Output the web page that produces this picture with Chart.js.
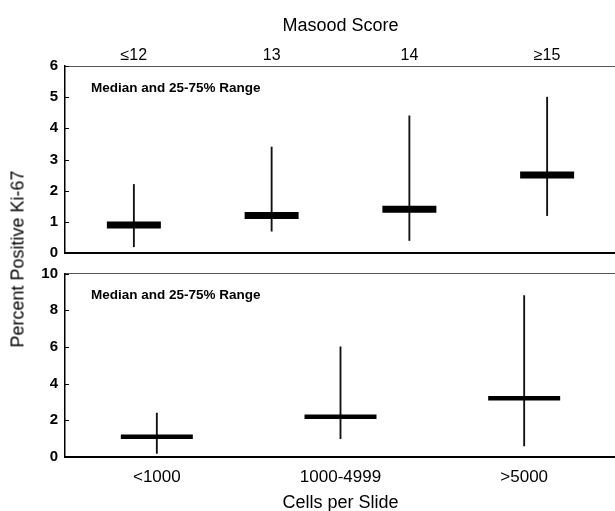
<!DOCTYPE html>
<html>
<head>
<meta charset="utf-8">
<script src="https://cdn.jsdelivr.net/npm/chart.js@4"></script>
<style>
  html, body { margin: 0; padding: 0; background: #fff; overflow: hidden; width: 615px; height: 511px; }
  canvas { position: absolute; left: 0; display: block; }
  #chart1 { top: 0; }
  #chart2 { top: 256px; }
  #ytitle {
    position: absolute; left: 18px; top: 259px;
    transform: translate(-50%, -50%) rotate(-90deg);
    font: 18px "Liberation Sans", Arial, sans-serif; color: #000; white-space: nowrap;
  }
</style>
</head>
<body>
<canvas id="chart1" width="620" height="266"></canvas>
<canvas id="chart2" width="620" height="266"></canvas>
<div id="ytitle">Percent Positive Ki-67</div>
<script>
// top panel: Masood score
const scoreLabels = ['≤12', '13', '14', '≥15'];
const scoreMedian = [0.9, 1.2, 1.4, 2.5];
const scoreLow = [0.2, 0.7, 0.4, 1.2];
const scoreHigh = [2.2, 3.4, 4.4, 5.0];
const scoreTicks = [0, 1, 2, 3, 4, 5, 6];

// bottom panel: cells per slide
const cellLabels = ['<1000', '1000-4999', '>5000'];
const cellMedian = [1.1, 2.2, 3.2];
const cellLow = [0.2, 1.0, 0.6];
const cellHigh = [2.4, 6.0, 8.8];
const cellTicks = [0, 2, 4, 6, 8, 10];

const FONT = '"Liberation Sans", Arial, sans-serif';

// inward y ticks + the note in the corner
const panelExtras = {
    id: 'panelExtras',
    afterDraw(chart) {
        const ctx = chart.ctx;
        const y = chart.scales.y;
        const area = chart.chartArea;
        ctx.save();
        ctx.strokeStyle = '#000';
        ctx.lineWidth = 1;
        y.ticks.forEach(t => {
            const py = Math.round(y.getPixelForValue(t.value)) + 0.5;
            ctx.beginPath();
            ctx.moveTo(area.left, py);
            ctx.lineTo(area.left + 4, py);
            ctx.stroke();
        });
        ctx.font = 'bold 13.5px ' + FONT;
        ctx.fillStyle = '#000';
        ctx.textBaseline = 'middle';
        ctx.fillText('Median and 25-75% Range', area.left + 26, area.top + 22);
        ctx.restore();
    }
};

function makePanel(canvasId, labels, medians, lows, highs, ticks, opts) {
    const ctx = document.getElementById(canvasId).getContext('2d');
    return new Chart(ctx, {
        type: 'bar',
        data: {
            labels: labels,
            datasets: [
                {
                    // median bars
                    type: 'line',
                    data: medians,
                    showLine: false,
                    pointStyle: 'line',
                    pointRadius: opts.medianHalf,
                    pointHoverRadius: opts.medianHalf,
                    pointBorderWidth: opts.medianThick,
                    pointHoverBorderWidth: opts.medianThick,
                    borderColor: '#000',
                    backgroundColor: '#000',
                    xAxisID: 'x',
                    order: 1
                },
                {
                    // 25-75% range
                    data: lows.map((lo, i) => [lo, highs[i]]),
                    backgroundColor: '#111',
                    borderWidth: 0,
                    barThickness: 1.2,
                    xAxisID: 'x',
                    order: 2
                }
            ]
        },
        options: {
            responsive: false,
            animation: false,
            events: [],
            layout: { autoPadding: false, padding: { left: 0, right: 4, top: 0, bottom: 0 } },
            plugins: { legend: { display: false }, tooltip: { enabled: false } },
            scales: {
                x: {
                    type: 'category',
                    position: opts.labelPos,
                    grid: { display: false, drawTicks: false },
                    border: { display: true, color: opts.labelPos === 'top' ? '#555' : '#000', width: opts.labelPos === 'top' ? 1 : 2 },
                    ticks: {
                        font: { family: FONT, size: opts.catSize },
                        color: '#000',
                        padding: opts.catPad,
                        maxRotation: 0
                    },
                    title: {
                        display: true,
                        text: opts.title,
                        font: { family: FONT, size: 18 },
                        color: '#000',
                        padding: opts.titlePad
                    },
                    afterFit: s => { s.height = opts.labelAxisH; }
                },
                x2: {
                    type: 'category',
                    labels: labels,
                    position: opts.labelPos === 'top' ? 'bottom' : 'top',
                    grid: { display: false, drawTicks: false },
                    border: { display: true, color: opts.labelPos === 'top' ? '#000' : '#555', width: opts.labelPos === 'top' ? 2 : 1 },
                    ticks: { display: false },
                    afterFit: s => { s.height = opts.otherAxisH; }
                },
                y: {
                    min: ticks[0],
                    max: ticks[ticks.length - 1],
                    grid: { display: false, drawTicks: false },
                    border: { display: true, color: '#000', width: 1.5 },
                    ticks: {
                        stepSize: ticks[1] - ticks[0],
                        font: { family: FONT, size: 15, weight: 'bold' },
                        color: '#000',
                        padding: 7
                    },
                    // fixed width, and no extra room reserved for the end labels
                    afterFit: s => { s.width = 65; s.paddingTop = 0; s.paddingBottom = 0; }
                }
            }
        },
        plugins: [panelExtras]
    });
}

makePanel('chart1', scoreLabels, scoreMedian, scoreLow, scoreHigh, scoreTicks, {
    labelPos: 'top', title: 'Masood Score', titlePad: { top: 15, bottom: 0 },
    catSize: 16, catPad: 1, labelAxisH: 66, otherAxisH: 13,
    medianHalf: 27, medianThick: 7
});

makePanel('chart2', cellLabels, cellMedian, cellLow, cellHigh, cellTicks, {
    labelPos: 'bottom', title: 'Cells per Slide', titlePad: { top: 0, bottom: 8 },
    catSize: 17, catPad: 10, labelAxisH: 65, otherAxisH: 17.5,
    medianHalf: 36, medianThick: 4.5
});
</script>
</body>
</html>
